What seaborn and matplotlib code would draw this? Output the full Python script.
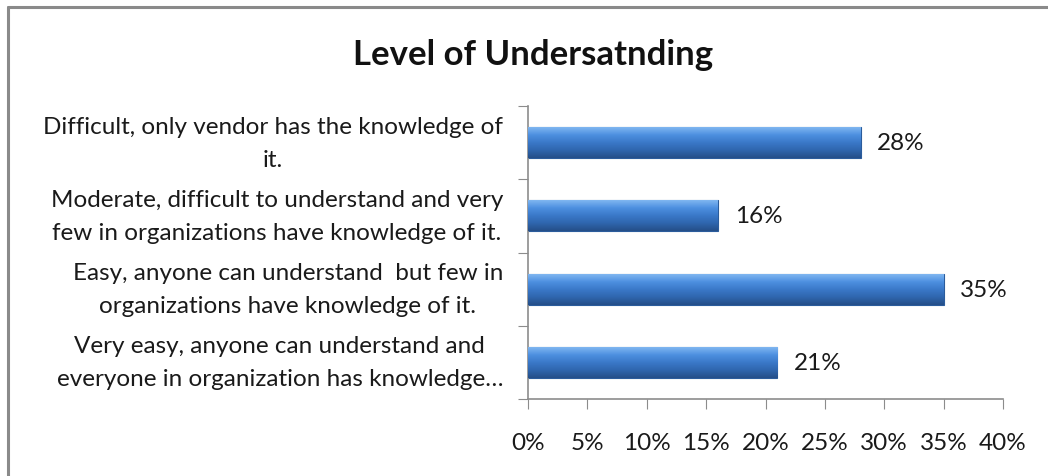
import numpy as np
import pandas as pd
import matplotlib
matplotlib.use("Agg")
import matplotlib.pyplot as plt
from matplotlib.lines import Line2D
from matplotlib.ticker import FuncFormatter, MultipleLocator
import seaborn as sns

# data, top to bottom as shown
categories = [
    "Difficult, only vendor has the knowledge of\nit.",
    "Moderate, difficult to understand and very\nfew in organizations have knowledge of it.",
    "Easy, anyone can understand  but few in\norganizations have knowledge of it.",
    "Very easy, anyone can understand and\neveryone in organization has knowledge\u2026",
]
shares = [0.28, 0.16, 0.35, 0.21]
value_labels = ["28%", "16%", "35%", "21%"]

df = pd.DataFrame({"category": categories, "share": shares})

sns.set_style("white")
plt.rcParams["font.family"] = ["Lato", "DejaVu Sans"]

fig = plt.figure(figsize=(10.48, 4.77), dpi=100)
ax = fig.add_axes([528 / 1048, 1 - 400 / 477, 475 / 1048, 293 / 477])

sns.barplot(data=df, x="share", y="category", orient="h", color="#3f7fd0",
            width=0.42, edgecolor="#2b5c9c", linewidth=0.8, ax=ax)

# vertical gradient on each bar, like the bevelled Excel look
grad = np.linspace(0, 1, 64).reshape(-1, 1)
cmap = matplotlib.colors.LinearSegmentedColormap.from_list(
    "bev", ["#7fb6f0", "#4d8fe0", "#3a78c8", "#2f66ae", "#254f88"])
for p in ax.patches:
    x0, y0 = p.get_x(), p.get_y()
    w, h = p.get_width(), p.get_height()
    im = ax.imshow(grad, cmap=cmap, aspect="auto",
                   extent=(x0, x0 + w, y0 + h, y0), zorder=3)
    im.set_clip_path(p)

ax.set_xlim(0, 0.40)
ax.set_ylim(3.5, -0.5)
ax.xaxis.set_major_locator(MultipleLocator(0.05))
ax.xaxis.set_major_formatter(FuncFormatter(lambda v, _: f"{v * 100:.0f}%"))
ax.set_xlabel("")
ax.set_ylabel("")

# category labels placed between Excel-style boundary ticks
ax.set_yticks(np.arange(-0.5, 4, 1))
ax.set_yticklabels([])
for i, lab in enumerate(categories):
    ax.text(-0.021, i, lab, ha="right", va="center",
            multialignment="center", fontsize=17.5, color="#1a1a1a", linespacing=1.7)

for i, (v, t) in enumerate(zip(shares, value_labels)):
    ax.text(v + 0.014, i, t, va="center", ha="left", fontsize=17.5, color="#1a1a1a")

for s in ["top", "right"]:
    ax.spines[s].set_visible(False)
for s in ["left", "bottom"]:
    ax.spines[s].set_color("#8c8c8c")
    ax.spines[s].set_linewidth(1.2)
ax.tick_params(axis="x", direction="out", length=7, color="#8c8c8c",
               labelsize=17.5, labelcolor="#1a1a1a", pad=17, bottom=True)
ax.tick_params(axis="y", direction="out", length=7, color="#8c8c8c", left=True)

fig.text(533 / 1048, 1 - 55 / 477, "Level of Undersatnding", ha="center",
         va="center", fontsize=25, fontweight="bold", color="#111111")

# outer chart frame (partly cut off at right and bottom)
fig.add_artist(Line2D([8 / 1048, 1], [1 - 8 / 477, 1 - 8 / 477],
                      transform=fig.transFigure, color="#8a8a8a", lw=2.2))
fig.add_artist(Line2D([8 / 1048, 8 / 1048], [1 - 8 / 477, 0],
                      transform=fig.transFigure, color="#8a8a8a", lw=2.2))

fig.savefig("out.png", dpi=100)
